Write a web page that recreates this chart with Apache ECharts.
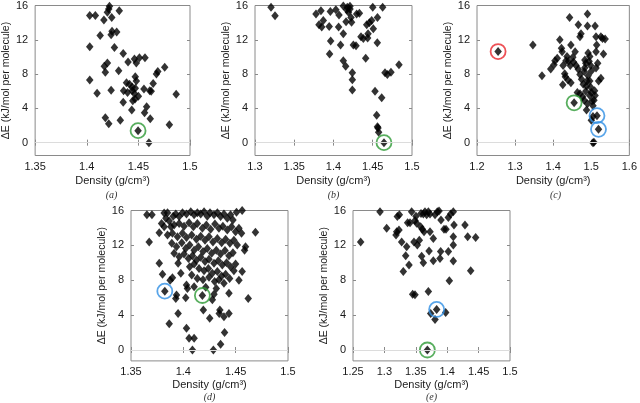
<!DOCTYPE html>
<html><head><meta charset="utf-8">
<script src="https://cdn.jsdelivr.net/npm/echarts@6/dist/echarts.min.js"></script>
<style>html,body{margin:0;padding:0;background:#fff}#c{width:640px;height:403px}</style>
</head><body><div id="c"></div>
<script>
// ---- data (density g/cm3, ΔE kJ/mol per molecule) ----
const panelA = [[1.4029,14.82],[1.4083,14.82],[1.422,15.9],[1.4213,15.6],[1.420,15.2],[1.4166,14.3],[1.4242,14.6],[1.4315,15.4],
[1.4245,13.0],[1.429,12.9],[1.4236,12.6],[1.413,12.5],[1.4029,11.2],[1.4268,11.1],[1.4353,10.4],[1.4462,9.75],[1.451,9.9],[1.4564,9.9],
[1.440,9.4],[1.448,9.3],[1.420,9.3],[1.417,8.9],[1.418,8.2],[1.4309,8.4],[1.4755,8.8],[1.4688,8.3],[1.4675,8.0],[1.4029,7.3],[1.447,7.7],
[1.448,7.2],[1.4385,7.0],[1.4414,6.8],[1.4643,6.9],[1.410,5.75],[1.4236,6.1],[1.4357,6.05],[1.4395,5.85],[1.444,6.05],[1.447,6.35],
[1.4554,6.25],[1.4624,6.0],[1.461,6.05],[1.444,6.5],[1.4463,5.7],[1.450,5.4],[1.4468,5.1],[1.4446,4.9],[1.4353,4.7],[1.4866,5.65],
[1.458,4.2],[1.4436,3.8],[1.456,3.5],[1.418,2.9],[1.4325,2.6],[1.4615,2.8],[1.4213,2.2],[1.480,2.1],[1.4497,1.4],[1.4602,0.0]];
const panelB = [[1.3204,15.8],[1.3255,14.8],[1.3777,15.0],[1.384,15.4],[1.387,14.25],[1.3815,13.75],[1.385,13.5],[1.3945,13.55],
[1.396,15.3],[1.403,15.5],[1.407,14.9],[1.4065,13.5],[1.4125,12.7],[1.3964,11.85],[1.409,11.4],[1.395,10.35],[1.4125,15.95],
[1.4168,15.5],[1.4176,15.8],[1.421,15.6],[1.419,15.2],[1.416,14.1],[1.4223,14.6],[1.423,14.05],[1.4295,15.0],[1.433,15.1],
[1.45,15.8],[1.4626,15.8],[1.456,14.6],[1.4423,13.75],[1.4457,14.0],[1.4486,14.25],[1.4507,13.3],[1.444,12.7],[1.435,12.35],
[1.438,12.15],[1.4435,12.2],[1.4253,11.4],[1.4287,11.3],[1.4558,11.65],[1.441,9.85],[1.4125,9.55],[1.4155,8.9],[1.424,8.15],
[1.424,7.35],[1.424,6.15],[1.4656,8.15],[1.4686,7.95],[1.4732,8.2],[1.4834,9.1],[1.4529,6.0],[1.4614,5.25],[1.455,3.2],
[1.456,1.85],[1.4567,1.7],[1.4575,1.2],[1.4643,0.0],[1.421,15.9]];
const panelC = [[1.2554,10.63],[1.3467,11.4],[1.3706,7.8],[1.3936,8.6],[1.4021,9.1],[1.4047,9.55],[1.4107,9.85],[1.4175,12.0],
[1.4218,11.0],[1.4235,10.6],[1.426,9.0],[1.4252,6.75],[1.4303,8.05],[1.432,7.7],[1.4337,9.55],[1.4363,10.05],[1.4405,9.5],
[1.4431,14.6],[1.4465,11.4],[1.4448,9.0],[1.4388,7.3],[1.4465,7.0],[1.4516,9.95],[1.4533,9.4],[1.4576,10.6],[1.4601,9.0],
[1.455,4.65],[1.466,13.75],[1.4704,12.35],[1.473,12.7],[1.466,8.55],[1.4704,7.95],[1.4746,7.4],[1.4635,5.85],[1.4704,5.7],
[1.479,6.8],[1.4815,8.3],[1.4832,8.75],[1.4857,9.25],[1.4832,9.65],[1.49,15.0],[1.49,13.6],[1.4772,5.35],[1.4815,4.95],
[1.4857,6.0],[1.4875,6.6],[1.489,7.2],[1.4917,7.8],[1.4917,10.45],[1.496,10.05],[1.4943,9.5],[1.4985,9.0],[1.5002,8.35],
[1.496,7.2],[1.4985,6.45],[1.5002,5.85],[1.496,5.5],[1.49,4.55],[1.4875,3.8],[1.502,4.85],[1.5045,4.3],[1.5045,3.05],
[1.5002,2.6],[1.5045,0.0],[1.507,0.05],[1.515,3.15],[1.519,1.55],[1.51,13.6],[1.5125,12.35],[1.5142,11.4],[1.5125,10.6],
[1.5168,9.25],[1.5125,8.7],[1.5193,7.2],[1.5253,7.5],[1.5253,12.35],[1.5295,12.15],[1.5364,12.1],[1.532,10.35],[1.5087,6.05],
[1.51,5.5],[1.507,4.95]];
const panelD = [[1.3652,15.5],[1.37,15.5],[1.3674,12.4],[1.377,13.45],[1.377,9.95],[1.3801,8.7],[1.3823,6.75],[1.3874,8.0],
[1.3896,8.3],[1.395,9.95],[1.3976,8.8],[1.3935,6.3],[1.3928,5.9],[1.403,7.45],[1.4039,7.05],[1.4023,6.0],[1.395,4.2],[1.3865,3.0],
[1.403,2.5],[1.4055,1.35],[1.4103,1.35],[1.4087,0.0],[1.4182,6.25],[1.4191,4.6],[1.4252,3.65],[1.4277,5.75],[1.4293,6.4],
[1.4287,0.0],[1.4343,4.2],[1.4349,4.6],[1.4388,3.8],[1.4436,4.2],[1.4394,2.0],[1.4356,0.65],[1.4436,6.5],[1.462,5.9],[1.4531,8.0],
[1.4562,9.0],[1.4585,11.45],[1.4594,11.85],[1.4689,13.5],[1.4562,16.0],[1.4508,15.8],
[1.3817,15.7],[1.3849,15.75],[1.3833,15.1],[1.3792,14.5],[1.3817,14.15],[1.3865,14.8],[1.3903,15.35],[1.3928,15.6],[1.396,15.3],
[1.3992,15.75],[1.403,15.6],[1.4071,15.85],[1.4103,15.5],[1.4134,15.75],[1.4166,15.6],[1.4198,15.85],[1.4229,15.35],[1.4255,15.75],
[1.4293,15.5],[1.4325,15.75],[1.4356,15.3],[1.4388,15.6],[1.442,15.1],[1.4451,15.5],[1.4474,14.9],[1.3881,14.15],[1.3912,14.35],
[1.396,14.5],[1.4007,14.2],[1.4055,14.6],[1.4096,14.15],[1.4134,14.5],[1.4182,13.95],[1.422,14.35],[1.4261,13.85],[1.4302,14.45],
[1.434,13.95],[1.4378,14.2],[1.442,13.75],[1.4461,14.15],[1.4499,13.55],[1.4531,13.95],[1.4556,13.4],[1.3849,13.2],[1.3896,13.4],
[1.3944,13.0],[1.3992,13.4],[1.403,12.9],[1.408,13.2],[1.4125,12.7],[1.4166,13.05],[1.4207,12.6],[1.4245,13.0],[1.4283,12.4],
[1.4325,12.8],[1.4366,12.3],[1.4404,12.7],[1.4445,12.25],[1.4483,12.6],[1.4515,12.05],[1.389,12.25],[1.3935,11.85],[1.3985,12.3],
[1.4023,11.65],[1.4061,12.05],[1.4103,11.45],[1.4144,11.85],[1.4188,11.3],[1.4229,11.65],[1.4271,11.1],[1.4315,11.45],[1.4356,11.0],
[1.4398,11.4],[1.4436,10.8],[1.4474,11.15],[1.3912,11.1],[1.396,10.7],[1.4007,11.0],[1.4049,10.5],[1.4087,10.8],[1.4125,10.3],
[1.4166,10.65],[1.4207,10.15],[1.4245,10.4],[1.4293,9.95],[1.4334,10.25],[1.4372,9.75],[1.4413,10.0],[1.4451,9.55],[1.4499,9.85],
[1.4061,9.55],[1.4103,9.85],[1.415,9.35],[1.4198,9.1],[1.4239,9.35],[1.4277,8.8],[1.4325,9.0],[1.4366,8.5],[1.4404,8.7],[1.4442,8.2],
[1.4483,9.1],[1.408,8.6],[1.4134,8.2],[1.4188,8.05],[1.4245,8.35],[1.4299,7.85],[1.434,8.05],[1.4388,7.65],[1.4103,7.25],[1.4214,7.2],
[1.4315,7.05]];
const panelE = [[1.2622,12.4],[1.293,15.85],[1.3036,13.95],[1.3185,13.2],[1.3196,13.55],[1.3232,13.75],[1.3206,15.3],[1.3238,15.5],
[1.3275,12.4],[1.3301,9.0],[1.3339,10.8],[1.3355,11.85],[1.3392,9.75],[1.337,14.6],[1.3408,14.6],[1.3434,15.85],[1.3487,14.85],
[1.3514,14.55],[1.3503,15.35],[1.3471,12.4],[1.3524,12.05],[1.3556,12.6],[1.3583,15.65],[1.362,15.6],[1.3646,15.85],[1.3577,14.15],
[1.3604,13.85],[1.3631,13.55],[1.3673,15.5],[1.37,15.85],[1.3726,15.6],[1.3726,13.55],[1.3593,10.75],[1.362,10.0],[1.3711,11.35],
[1.3779,12.8],[1.3779,10.25],[1.3806,15.5],[1.3843,15.85],[1.387,15.95],[1.3901,14.9],[1.3896,11.3],[1.3885,10.5],[1.3949,13.85],
[1.3981,13.85],[1.4018,15.2],[1.4055,15.6],[1.4097,15.85],[1.4108,14.35],[1.4097,13.0],[1.4097,12.05],[1.4018,11.3],[1.4097,10.2],
[1.4283,14.35],[1.4326,13.0],[1.4453,12.9],[1.4374,9.1],[1.4034,7.95],[1.37,6.7],[1.345,6.4],[1.3487,6.35],[1.3737,4.2],
[1.3806,3.5],[1.3832,4.65],[1.3976,4.3],[1.3684,0.0]];
// circled structures
const greenA = [[1.4497,1.4]];
const greenB = [[1.4643,0.0]];
const greenC = [[1.455,4.65]], redC = [[1.2554,10.63]], blueC = [[1.515,3.15],[1.519,1.55]];
const greenD = [[1.4182,6.25]], blueD = [[1.3823,6.75]];
const greenE = [[1.3684,0.0]], blueE = [[1.3832,4.65]];
// axis ranges / ticks
const xRanges = [[1.35,1.5,0.05],[1.3,1.5,0.05],[1.2,1.6,0.1],[1.35,1.5,0.05],[1.25,1.5,0.05]];
const yTicks = [0,4,8,12,16];
const yRanges = [[-1.5,16],[-1.5,16],[-1.5,16],[-1.25,16],[-1.25,16]];
const panelLabels = ['(a)','(b)','(c)','(d)','(e)'];

const panels = [
  {data: panelA, hl: [[greenA,'#2e9a36']]},
  {data: panelB, hl: [[greenB,'#2e9a36']]},
  {data: panelC, hl: [[greenC,'#2e9a36'],[redC,'#e8262c'],[blueC,'#2f8fe3']]},
  {data: panelD, hl: [[greenD,'#2e9a36'],[blueD,'#2f8fe3']]},
  {data: panelE, hl: [[greenE,'#2e9a36'],[blueE,'#2f8fe3']]}
];
const boxes = [[33,3,152.5],[255,3,152.5],[477,3,152.5],[131,210.5,150.4],[353,210.5,150.4]];
const labelY = [195.5,195.5,195.5,397.5,397.5];
const nameGaps = [20,20,20,18.5,18.5];
const W = 157;

const FONT = 'Liberation Sans, Arial, sans-serif';
const grid = [], xAxis = [], yAxis = [], series = [], graphic = [];
panels.forEach((p, i) => {
  const [l, t, H] = boxes[i];
  grid.push({left: l, top: t, width: W, height: H, show: true, borderColor: '#8a8a8a', borderWidth: 1, containLabel: false});
  const [xmin, xmax, xint] = xRanges[i];
  const tick = {show: true, inside: true, length: 3, lineStyle: {color: '#8a8a8a'}};
  xAxis.push({type: 'value', gridIndex: i, position: 'bottom', min: xmin, max: xmax, interval: xint,
    axisLine: {show: false}, splitLine: {show: false}, axisTick: tick,
    axisLabel: {color: '#1a1a1a', fontSize: 11, fontFamily: FONT, margin: 6, formatter: v => String(+v.toFixed(2))},
    name: 'Density (g/cm³)', nameLocation: 'middle', nameGap: nameGaps[i],
    nameTextStyle: {color: '#1a1a1a', fontSize: 11, fontFamily: FONT}});
  xAxis.push({type: 'value', gridIndex: i, position: 'top', min: xmin, max: xmax, interval: xint,
    axisLine: {show: false}, splitLine: {show: false}, axisTick: tick, axisLabel: {show: false}});
  yAxis.push({type: 'value', gridIndex: i, position: 'left', min: yRanges[i][0], max: yRanges[i][1],
    axisLine: {show: false}, splitLine: {show: false},
    axisTick: Object.assign({customValues: yTicks}, tick),
    axisLabel: {customValues: yTicks, color: '#1a1a1a', fontSize: 11, fontFamily: FONT, margin: 7},
    name: 'ΔE (kJ/mol per molecule)', nameLocation: 'middle', nameGap: 20,
    nameTextStyle: {color: '#1a1a1a', fontSize: 10.5, fontFamily: FONT}});
  yAxis.push({type: 'value', gridIndex: i, position: 'right', min: yRanges[i][0], max: yRanges[i][1],
    axisLine: {show: false}, splitLine: {show: false},
    axisTick: Object.assign({customValues: yTicks}, tick), axisLabel: {show: false}});
  // zero reference line (below the markers)
  series.push({type: 'scatter', xAxisIndex: 2*i, yAxisIndex: 2*i, data: [], silent: true, z: 1,
    markLine: {silent: true, symbol: 'none', label: {show: false}, lineStyle: {color: '#dcdcdc', type: 'solid', width: 1},
      data: [{yAxis: 0}]}});
  series.push({type: 'scatter', xAxisIndex: 2*i, yAxisIndex: 2*i, data: p.data, symbol: 'diamond', symbolSize: [7.5, 9],
    itemStyle: {color: '#000'}, silent: true, z: 3});
  p.hl.forEach(([d, c]) => {
    series.push({type: 'scatter', xAxisIndex: 2*i, yAxisIndex: 2*i, data: d, symbol: 'circle', symbolSize: 15,
      itemStyle: {color: 'rgba(0,0,0,0)', borderColor: c, borderWidth: 1.8}, silent: true, z: 4});
  });
  graphic.push({type: 'text', x: l + W/2, y: labelY[i], style: {text: panelLabels[i], align: 'center', verticalAlign: 'middle',
    font: 'italic 10px "Liberation Serif", serif', fill: '#333'}});
});

const chart = echarts.init(document.getElementById('c'), null, {renderer: 'canvas'});
chart.setOption({animation: false, backgroundColor: '#fff', grid, xAxis, yAxis, series, graphic});
</script></body></html>
